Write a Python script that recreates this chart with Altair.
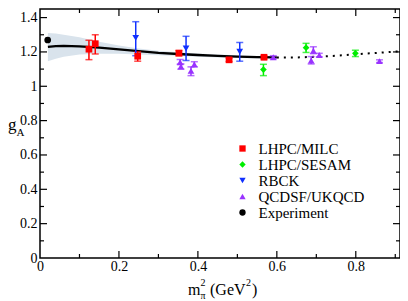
import altair as alt
import pandas as pd

SERIF = "Liberation Serif"

# ---------------- data ----------------
SERIES = ["LHPC/MILC", "LHPC/SESAM", "RBCK", "QCDSF/UKQCD", "Experiment"]
COLORS = ["#ff0000", "#00ee00", "#1030ff", "#9933ff", "#000000"]
SHAPES = ["square", "diamond", "triangle-down", "triangle-up", "circle"]

MILC_X = [0.124, 0.140, 0.2475, 0.352, 0.479, 0.5675]
MILC_Y = [1.216, 1.248, 1.175, 1.193, 1.154, 1.169]
MILC_LO = [1.155, 1.188, 1.146, 1.178, 1.144, 1.160]
MILC_HI = [1.268, 1.300, 1.201, 1.208, 1.164, 1.178]

SESAM_X = [0.566, 0.674, 0.799]
SESAM_Y = [1.097, 1.225, 1.192]
SESAM_LO = [1.062, 1.197, 1.173]
SESAM_HI = [1.128, 1.250, 1.210]

RBCK_X = [0.2425, 0.370, 0.506]
RBCK_Y = [1.282, 1.220, 1.201]
RBCK_LO = [1.178, 1.150, 1.146]
RBCK_HI = [1.376, 1.291, 1.255]

QCD_X = [0.355, 0.357, 0.3825, 0.391, 0.591, 0.687, 0.6925, 0.7075, 0.860]
QCD_Y = [1.140, 1.115, 1.090, 1.128, 1.169, 1.150, 1.207, 1.182, 1.146]
QCD_LO = [1.128, 1.100, 1.062, 1.113, 1.160, 1.130, 1.190, 1.172, 1.138]
QCD_HI = [1.156, 1.130, 1.113, 1.143, 1.178, 1.173, 1.230, 1.192, 1.154]

EXP_X = [0.0195]
EXP_Y = [1.2695]

CURVE_X = [0.02, 0.04, 0.06, 0.10, 0.15, 0.20, 0.25, 0.30, 0.35, 0.40, 0.45, 0.50, 0.55, 0.60]
CURVE_Y = [1.229, 1.234, 1.235, 1.232, 1.225, 1.215, 1.205, 1.195, 1.188, 1.182, 1.177, 1.173, 1.170, 1.168]
BAND_LO = [1.146, 1.160, 1.172, 1.185, 1.190, 1.190, 1.185, 1.181, 1.177, 1.172, 1.168, 1.165, 1.162, 1.160]
BAND_HI = [1.310, 1.308, 1.300, 1.285, 1.260, 1.237, 1.220, 1.207, 1.198, 1.191, 1.185, 1.180, 1.177, 1.175]

DOT_X = [0.60, 0.65, 0.70, 0.75, 0.80, 0.85, 0.912]
DOT_Y = [1.168, 1.168, 1.172, 1.178, 1.186, 1.194, 1.204]

X_LABELS = [0, 0.2, 0.4, 0.6, 0.8]
Y_LABELS = [0, 0.2, 0.4, 0.6, 0.8, 1.0, 1.2, 1.4]
X_MAJ = [0.2, 0.4, 0.6, 0.8]
X_MIN = [0.1, 0.3, 0.5, 0.7, 0.9]
Y_MAJ = [0.2, 0.4, 0.6, 0.8, 1.0, 1.2, 1.4]
Y_MIN = [0.1, 0.3, 0.5, 0.7, 0.9, 1.1, 1.3]

# ---------------- tables ----------------
groups = [
    ("LHPC/MILC", MILC_X, MILC_Y, MILC_LO, MILC_HI),
    ("LHPC/SESAM", SESAM_X, SESAM_Y, SESAM_LO, SESAM_HI),
    ("RBCK", RBCK_X, RBCK_Y, RBCK_LO, RBCK_HI),
    ("QCDSF/UKQCD", QCD_X, QCD_Y, QCD_LO, QCD_HI),
]
frames = [pd.DataFrame({"x": a, "y": b, "lo": c, "hi": d, "series": n}) for n, a, b, c, d in groups]
pts_df = pd.concat(
    frames + [pd.DataFrame({"x": EXP_X, "y": EXP_Y, "series": "Experiment"})],
    ignore_index=True,
)
band_df = pd.DataFrame({"x": CURVE_X, "y": CURVE_Y, "lo": BAND_LO, "hi": BAND_HI})
dot_df = pd.DataFrame({"x": DOT_X, "y": DOT_Y})

W, H = 360, 249

xs = alt.Scale(domain=[0, 0.912], nice=False, zero=False)
ys = alt.Scale(domain=[0, 1.45], nice=False, zero=False)
common_axis = dict(format="~g", ticks=False, domain=False, grid=False, labelFlush=False,
                   labelFont=SERIF, labelFontSize=14, labelColor="black", title=None)
xaxis = alt.Axis(values=X_LABELS, labelPadding=1, **common_axis)
yaxis = alt.Axis(values=Y_LABELS, labelPadding=3, **common_axis)


def X(f="x"):
    return alt.X(f"{f}:Q", scale=xs, axis=xaxis)


def Y(f="y"):
    return alt.Y(f"{f}:Q", scale=ys, axis=yaxis)


col_scale = alt.Scale(domain=SERIES, range=COLORS)
shp_scale = alt.Scale(domain=SERIES, range=SHAPES)
legend = alt.Legend(title=None, orient="none", legendX=195, legendY=132, padding=0,
                    labelFont=SERIF, labelFontSize=15, labelFontWeight="normal",
                    labelColor="black", labelOffset=8.5,
                    symbolSize=40, rowPadding=-0.6, symbolStrokeWidth=0)

band = alt.Chart(band_df).mark_area(color="#d9e3ec", opacity=1).encode(
    x=X(), y=Y("lo"), y2=alt.Y2("hi"))
curve = alt.Chart(band_df).mark_line(color="black", strokeWidth=2.3).encode(x=X(), y=Y())
dots = alt.Chart(dot_df).mark_line(color="black", strokeWidth=2, strokeDash=[2, 5]).encode(x=X(), y=Y())

err_layers = []
for frame, col in zip(frames, COLORS):
    err_layers.append(alt.Chart(frame).mark_rule(strokeWidth=1.5, color=col).encode(
        x=X(), y=Y("lo"), y2=alt.Y2("hi")))
    err_layers.append(alt.Chart(frame).mark_tick(orient="horizontal", size=7, thickness=1.5, color=col).encode(
        x=X(), y=Y("lo")))
    err_layers.append(alt.Chart(frame).mark_tick(orient="horizontal", size=7, thickness=1.5, color=col).encode(
        x=X(), y=Y("hi")))

points = alt.Chart(pts_df).mark_point(filled=True, opacity=1, size=45).encode(
    x=X(), y=Y(),
    color=alt.Color("series:N", scale=col_scale, legend=legend),
    shape=alt.Shape("series:N", scale=shp_scale, legend=legend),
)


# inward ticks on all four sides
def xticks(vals, length):
    d = pd.DataFrame({"x": vals})
    bot = alt.Chart(d).mark_rule(color="black", strokeWidth=1.2).encode(
        x=X(), y=alt.value(H), y2=alt.value(H - length))
    top = alt.Chart(d).mark_rule(color="black", strokeWidth=1.2).encode(
        x=X(), y=alt.value(0), y2=alt.value(length))
    return [bot, top]


def yticks(vals, length):
    d = pd.DataFrame({"y": vals})
    left = alt.Chart(d).mark_rule(color="black", strokeWidth=1.2).encode(
        y=Y(), x=alt.value(0), x2=alt.value(length))
    right = alt.Chart(d).mark_rule(color="black", strokeWidth=1.2).encode(
        y=Y(), x=alt.value(W), x2=alt.value(W - length))
    return [left, right]


tick_layers = xticks(X_MAJ, 7) + xticks(X_MIN, 4) + yticks(Y_MAJ, 7) + yticks(Y_MIN, 4)


def label(txt, x, y, size):
    return alt.Chart(pd.DataFrame({"t": [txt]})).mark_text(
        font=SERIF, fontSize=size, align="left", baseline="alphabetic", color="black"
    ).encode(text="t:N", x=alt.value(x), y=alt.value(y))


# page coords minus (40, 9)
texts = [
    label("g", -32, 121, 17),
    label("A", -23.5, 127, 11),
    label("m", 148, 286, 16),
    label("2", 160.5, 277, 10),
    label("π", 160.5, 290, 10),
    label("(GeV", 170, 286, 16),
    label("2", 206, 277, 10),
    label(")", 212, 286, 16),
]

chart = alt.layer(
    band, curve, dots, *err_layers, points, *tick_layers, *texts
).properties(
    width=W, height=H,
    autosize=alt.AutoSizeParams(type="none"),
    padding={"left": 32, "top": 1, "right": 0, "bottom": 43},
).configure(
    background="white", font=SERIF
).configure_view(
    stroke="black", strokeWidth=1.5
).configure_legend(
    labelFont=SERIF, labelFontWeight="normal"
).configure_axis(
    labelFont=SERIF
)

chart.save("out.html", embed_options={"renderer": "svg", "actions": False})
